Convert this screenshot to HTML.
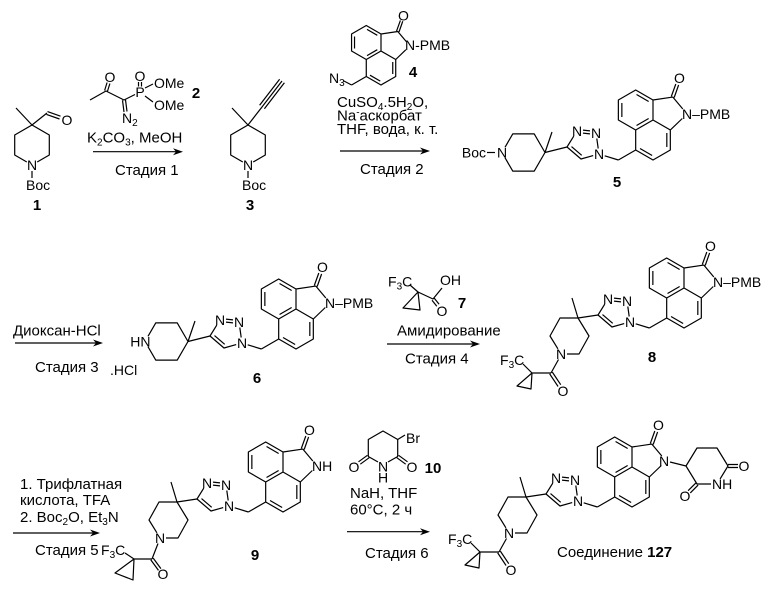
<!DOCTYPE html>
<html><head><meta charset="utf-8"><style>
html,body{margin:0;padding:0;background:#fff;width:780px;height:590px;overflow:hidden}
svg{display:block}
text{font-family:"Liberation Sans",Arial,sans-serif;font-size:14px;fill:#000}
.r{font-size:15px}
.b{font-weight:bold;font-size:15px}
.m{text-anchor:middle}
.e{text-anchor:end}
path{fill:none;stroke:#000;stroke-width:1.2;vector-effect:non-scaling-stroke;stroke-linejoin:round}
.ah{fill:#000;stroke:none}
</style></head><body>
<svg width="780" height="590" viewBox="0 0 780 590" xmlns="http://www.w3.org/2000/svg">
<defs>
<path id="naph" d="M-34.64,0 L-34.64,-20 L-17.32,-30 L0,-20 L0,0 L-17.32,10 Z M0,0 L17.32,10 L17.32,30 L0,40 L-17.32,30 L-17.32,10 M-31.14,-17 L-31.14,-3 M-16.47,-25.47 L-4.35,-18.47 M-4.35,-1.53 L-16.47,5.47 M13.82,13 L13.82,27 M-0.85,35.47 L-12.97,28.47 M0,-20 L19.76,-22.96 L29.8,-11 M29.3,-1.5 L17.32,10 M21.2,-22.5 L25.6,-35 M18.3,-23.5 L22.8,-36 M-17.32,30 L-34.64,40"/>
<path id="tri" d="M-34.64,40 L-48.3,35.8 M-86,27 L-79.2,16.1 M-70,10.1 L-63,10.9 M-70,13.1 L-63,13.9 M-56.2,18.5 L-54.8,28.5 M-59.8,35.6 L-72,39 L-86,27 M-71.3,35.35 L-81.5,26.55"/>
<path id="pipF" d="M-148,27.3 L-140.25,13.9 L-118.75,13.9 L-108,32.5 L-118.75,51.1 L-140.25,51.1 L-148,37.7 M-108,32.5 L-101,12 M-108,32.5 L-86,27"/>
<path id="pipC" d="M-117,66 L-105,66 L-95,48 L-106,30 L-124,30 L-134,48 L-126.1,60.8 M-106,30 L-112,10 M-106,30 L-86,27"/>
<path id="amA" d="M-125.5,71.5 L-133,85 M-131.67,84.11 L-123.27,96.71 M-134.33,85.89 L-125.93,98.49 M-133,85 L-152,85 M-152,85 L-167,98 L-153,101 Z M-161,76 L-152,85"/>
<path id="am9" d="M-125,71.5 L-131,87 M-129.8,86.1 L-122.1,96.6 M-132.2,87.9 L-124.5,98.4 M-131,87 L-149,87 M-149,87 L-168,101 L-150,108 Z M-158,81 L-149,87"/>
</defs>
<rect width="780" height="590" fill="#fff"/>

<!-- ===== Row 1 ===== -->
<!-- cpd 1 -->
<path d="M26.8,162 L14.7,155 L14.7,135 L32,125 L49.3,135 L49.3,155 L37.2,162 M32,125 L16,108 M32,125 L47,113 M47.5,111.6 L60.5,116.2 M46.5,114.4 L59.5,119 M32,171 L32,178"/>
<text x="67" y="125" class="m">O</text>
<text x="32" y="170" class="m">N</text>
<text x="26" y="190">Boc</text>
<text x="37" y="210" class="b m">1</text>

<!-- reagent 2 -->
<path d="M90,100 L106,91 L124,100 L135,94.5 M104.6,90.5 L107.1,82.5 M107.4,91.5 L109.9,83.5 M122.5,100.2 L124,112 M125.5,99.8 L127,111.5 M138.5,82 L138.5,86.5 M141.5,82 L141.5,86.5 M145,88 L153,84 M145,96 L153,102"/>
<text x="110" y="82" class="m">O</text>
<text x="122" y="123">N<tspan dy="3" font-size="10">2</tspan></text>
<text x="140" y="97" class="m">P</text>
<text x="140" y="81" class="m">O</text>
<text x="154" y="88">OMe</text>
<text x="154" y="110">OMe</text>
<text x="196" y="98" class="b m">2</text>
<text x="87" y="142.5" class="r">K<tspan dy="3" font-size="10">2</tspan><tspan dy="-3">CO</tspan><tspan dy="3" font-size="10">3</tspan><tspan dy="-3">, MeOH</tspan></text>
<path d="M93,151.7 L177,151.7"/>
<polygon class="ah" points="183,151.7 173,148.2 176,151.7 173,155.2"/>
<text x="115" y="175" class="r">Стадия 1</text>

<!-- cpd 3 -->
<path d="M242.8,162 L230.7,155 L230.7,135 L248,125 L265.3,135 L265.3,155 L253.2,162 M248,125 L232,108 M248,125 L262,107 L282,81 M264.4,108.8 L284.4,82.8 M259.6,105.2 L279.6,79.2 M248,171 L248,178"/>
<text x="248" y="170" class="m">N</text>
<text x="242" y="190">Boc</text>
<text x="250" y="210" class="b m">3</text>

<!-- reagent 4 -->
<g transform="translate(381,51) scale(0.85)"><use href="#naph"/></g>
<path d="M351.6,85 L343,80.5"/>
<text x="403.4" y="20.5" class="m">O</text>
<text x="405" y="50">N-PMB</text>
<text x="329" y="83">N<tspan dy="3" font-size="10">3</tspan></text>
<text x="413" y="77" class="b m">4</text>
<text x="337" y="107" class="r">CuSO<tspan dy="3" font-size="10">4</tspan><tspan dy="-3">.5H</tspan><tspan dy="3" font-size="10">2</tspan><tspan dy="-3">O,</tspan></text>
<text x="337" y="120.5" class="r">Na<tspan dy="-5" font-size="10">-</tspan><tspan dy="5">аскорбат</tspan></text>
<text x="337" y="134" class="r">THF, вода, к. т.</text>
<path d="M340,151 L424,151"/>
<polygon class="ah" points="430,151 420,147.5 423,151 420,154.5"/>
<text x="360" y="174" class="r">Стадия 2</text>

<!-- cpd 5 -->
<use href="#naph" x="653" y="120"/>
<use href="#tri" x="653" y="120"/>
<use href="#pipF" x="653" y="120"/>
<path d="M487,152.5 L495,152.5"/>
<text x="486" y="157.5" class="e">Boc</text>
<text x="502" y="157.5" class="m">N</text>
<text x="577" y="136" class="m">N</text>
<text x="596" y="138" class="m">N</text>
<text x="599" y="159" class="m">N</text>
<text x="679.4" y="83.2" class="m">O</text>
<text x="682" y="119">N–PMB</text>
<text x="617" y="187" class="b m">5</text>

<!-- ===== Row 2 ===== -->
<text x="13" y="335.5" class="r">Диоксан-HCl</text>
<path d="M15,343 L97,343"/>
<polygon class="ah" points="103,343 93,339.5 96,343 93,346.5"/>
<text x="35" y="372" class="r">Стадия 3</text>

<!-- cpd 6 -->
<use href="#naph" x="296" y="309"/>
<use href="#tri" x="296" y="309"/>
<use href="#pipF" x="296" y="309"/>
<text x="150.5" y="346.5" class="e">HN</text>
<text x="110" y="375">.HCl</text>
<text x="220" y="325" class="m">N</text>
<text x="239" y="327" class="m">N</text>
<text x="242" y="348" class="m">N</text>
<text x="322.4" y="272" class="m">O</text>
<text x="325" y="308">N–PMB</text>
<text x="257" y="383" class="b m">6</text>

<!-- reagent 7 -->
<path d="M410,285 L418,292 M418,292 L403,308 L420,310 Z M418,292 L433,299 L442,288 M432,300.2 L436.8,306.2 M434.3,298.3 L439.1,304.3"/>
<text x="388" y="286.7">F<tspan dy="3" font-size="10">3</tspan><tspan dy="-3">C</tspan></text>
<text x="440" y="285">OH</text>
<text x="442" y="316" class="m">O</text>
<text x="462" y="308" class="b m">7</text>
<text x="397" y="335.5" class="r">Амидирование</text>
<path d="M387,344 L474,344"/>
<polygon class="ah" points="480,344 470,340.5 473,344 470,347.5"/>
<text x="405" y="363.5" class="r">Стадия 4</text>

<!-- cpd 8 -->
<use href="#naph" x="684" y="288"/>
<use href="#tri" x="684" y="288"/>
<use href="#pipC" x="684" y="288"/>
<use href="#amA" x="684" y="288"/>
<text x="710.4" y="251" class="m">O</text>
<text x="713" y="287">N–PMB</text>
<text x="608" y="304" class="m">N</text>
<text x="627" y="306" class="m">N</text>
<text x="630" y="327" class="m">N</text>
<text x="561" y="359" class="m">N</text>
<text x="563" y="396" class="m">O</text>
<text x="500" y="365">F<tspan dy="3" font-size="10">3</tspan><tspan dy="-3">C</tspan></text>
<text x="652" y="362" class="b m">8</text>

<!-- ===== Row 3 ===== -->
<text x="20" y="489" class="r">1. Трифлатная</text>
<text x="20" y="505" class="r">кислота, TFA</text>
<text x="20" y="522" class="r">2. Boc<tspan dy="3" font-size="10">2</tspan><tspan dy="-3">O, Et</tspan><tspan dy="3" font-size="10">3</tspan><tspan dy="-3">N</tspan></text>
<path d="M13,533 L94,533"/>
<polygon class="ah" points="100,533 90,529.5 93,533 90,536.5"/>
<text x="35" y="555" class="r">Стадия 5</text>

<!-- cpd 9 -->
<use href="#naph" x="283" y="472"/>
<use href="#tri" x="283" y="472"/>
<use href="#pipC" x="283" y="472"/>
<use href="#am9" x="283" y="472"/>
<text x="309.4" y="435" class="m">O</text>
<text x="312" y="471">NH</text>
<text x="207" y="488" class="m">N</text>
<text x="226" y="490" class="m">N</text>
<text x="229" y="511" class="m">N</text>
<text x="160" y="543" class="m">N</text>
<text x="163" y="579" class="m">O</text>
<text x="101" y="555">F<tspan dy="3" font-size="10">3</tspan><tspan dy="-3">C</tspan></text>
<text x="255" y="560" class="b m">9</text>

<!-- reagent 10 -->
<path d="M388,462 L397.7,456.5 L397.7,439.5 L383,431 L368.3,439.5 L368.3,456.5 L378,462 M397.7,439.5 L405,435 M398.6,455.3 L407.5,461.8 M396.8,457.7 L405.7,464.2 M367.4,455.3 L358.5,461.8 M369.2,457.7 L360.3,464.2"/>
<text x="406" y="443">Br</text>
<text x="412" y="472" class="m">O</text>
<text x="354" y="472" class="m">O</text>
<text x="383" y="471.7" class="m">N</text>
<text x="383" y="482.5" class="m">H</text>
<text x="433" y="473" class="b m">10</text>
<text x="350" y="498" class="r">NaH, THF</text>
<text x="350" y="514.5" class="r">60°C, 2 ч</text>
<path d="M347,531.7 L424,531.7"/>
<polygon class="ah" points="430,531.7 420,528.2 423,531.7 420,535.2"/>
<text x="365" y="558" class="r">Стадия 6</text>

<!-- cpd 127 -->
<use href="#naph" x="632" y="467"/>
<use href="#tri" x="632" y="467"/>
<use href="#pipC" x="632" y="467"/>
<use href="#amA" x="632" y="467"/>
<path d="M670,462 L686,466 L697,448 L717,448 L728,466 L720.1,478.9 M711,484 L697,484 L686,466 M728,464.5 L738,464.5 M728,467.5 L738,467.5 M698.1,485.1 L690.3,492.9 M695.9,482.9 L688.1,490.7"/>
<text x="658.4" y="430" class="m">O</text>
<text x="664" y="466" class="m">N</text>
<text x="744" y="471" class="m">O</text>
<text x="712" y="489">NH</text>
<text x="685" y="501" class="m">O</text>
<text x="556" y="483" class="m">N</text>
<text x="575" y="485" class="m">N</text>
<text x="578" y="506" class="m">N</text>
<text x="509" y="538" class="m">N</text>
<text x="511" y="575" class="m">O</text>
<text x="448" y="544">F<tspan dy="3" font-size="10">3</tspan><tspan dy="-3">C</tspan></text>
<text x="557" y="557" class="r">Соединение <tspan font-weight="bold">127</tspan></text>
</svg>
</body></html>
